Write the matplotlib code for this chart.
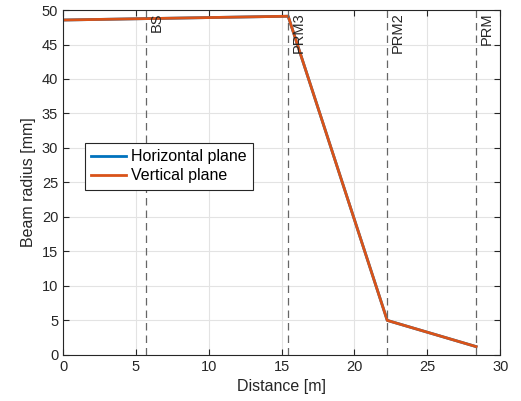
"""Beam radius along the beam path, MATLAB-like style."""

import matplotlib
matplotlib.use('Agg')
import matplotlib.pyplot as plt

distance = [0.0, 15.45, 22.25, 28.35]
radius_h = [48.55, 49.1, 5.0, 1.2]
radius_v = [48.55, 49.1, 5.0, 1.2]

optic_names = ['BS', 'PRM3', 'PRM2', 'PRM']
optic_pos = [5.7, 15.45, 22.25, 28.35]

plt.rcParams['font.family'] = ['Liberation Sans', 'DejaVu Sans']

fig = plt.figure(figsize=(5.21, 4.01), dpi=100)
ax = fig.add_axes([0.121, 0.115, 0.839, 0.86])

ax.plot(distance, radius_h, color='#0072BD', lw=2, label='Horizontal plane')
ax.plot(distance, radius_v, color='#D95319', lw=2, label='Vertical plane')

for name, pos in zip(optic_names, optic_pos):
    ax.axvline(pos, color='#666666', lw=0.9, ls=(0, (6, 4)))
    ax.text(pos + 0.25, 49.7, name, rotation=90, ha='left', va='top',
            fontsize=10.5, color='#262626')

ax.set_xlim(0, 30)
ax.set_ylim(0, 50)
ax.set_xticks(range(0, 31, 5))
ax.set_yticks(range(0, 51, 5))
ax.grid(True, color='#e3e3e3', lw=0.8)
ax.set_axisbelow(True)
ax.tick_params(direction='in', top=True, right=True, labelsize=10.5,
               colors='#262626', length=4)
for spine in ax.spines.values():
    spine.set_color('#262626')
    spine.set_linewidth(0.8)

ax.set_xlabel('Distance [m]', fontsize=11.5, color='#262626')
ax.set_ylabel('Beam radius [mm]', fontsize=11.5, color='#262626')

leg = ax.legend(loc='upper left', bbox_to_anchor=(0.05, 0.615), fontsize=11.5,
                fancybox=False, edgecolor='#262626', framealpha=1,
                handlelength=2.2, borderpad=0.4, labelspacing=0.25,
                handletextpad=0.3, borderaxespad=0)
leg.get_frame().set_linewidth(0.8)

fig.savefig('out.png', dpi=100)
